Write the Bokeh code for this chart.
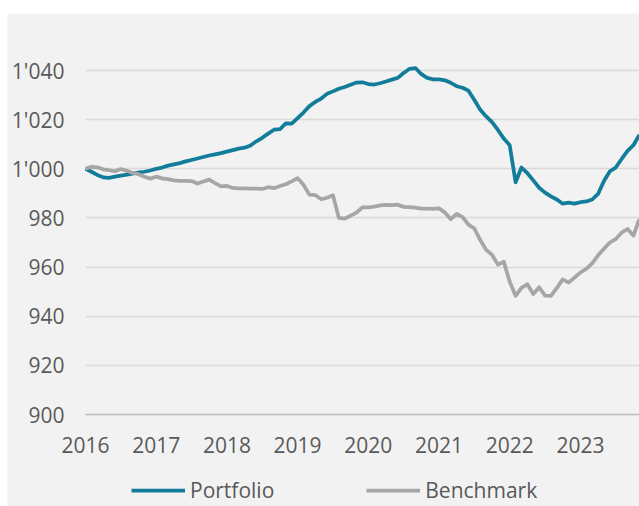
from bokeh.plotting import figure
from bokeh.models import FixedTicker, Legend, LegendItem, Range1d, Spacer
from bokeh.layouts import row, column
from bokeh.embed import file_html
from bokeh.resources import INLINE

# Monthly values, Jan 2016 .. Nov 2023
portfolio = [
    1000.0, 998.8, 997.5, 996.5, 996.3, 996.8, 997.2, 997.6, 998.0, 998.5, 998.8, 999.3,
    1000.0, 1000.5, 1001.3, 1001.8, 1002.3, 1003.0, 1003.6, 1004.2, 1004.8, 1005.4, 1005.9, 1006.4,
    1007.0, 1007.6, 1008.2, 1008.6, 1009.5, 1011.2, 1012.6, 1014.3, 1015.9, 1016.1, 1018.5, 1018.4,
    1020.6, 1022.9, 1025.5, 1027.2, 1028.6, 1030.5, 1031.5, 1032.6, 1033.3, 1034.2, 1035.1, 1035.2,
    1034.5, 1034.3, 1034.8, 1035.5, 1036.3, 1037.0, 1039.0, 1040.7, 1041.0, 1038.5, 1037.0, 1036.4,
    1036.4, 1036.0, 1035.0, 1033.6, 1033.0, 1031.8, 1028.0, 1024.0, 1021.3, 1019.0, 1015.8, 1012.3,
    1009.6, 994.5, 1000.5, 998.2, 995.3, 992.3, 990.3, 988.8, 987.5, 985.8, 986.2, 985.8,
    986.4, 986.7, 987.5, 989.8, 995.0, 999.0, 1000.5, 1004.0, 1007.3, 1009.6, 1013.8,
]
benchmark = [
    1000.0, 1000.8, 1000.6, 999.8, 999.4, 999.0, 999.9, 999.2, 998.3, 997.8, 996.8, 996.0,
    996.8, 996.1, 995.8, 995.3, 995.1, 995.1, 995.0, 994.0, 994.8, 995.6, 994.2, 992.8,
    993.0, 992.2, 992.0, 992.0, 991.9, 991.9, 991.8, 992.5, 992.1, 993.0, 993.7, 994.9,
    996.2, 993.5, 989.5, 989.3, 987.6, 988.2, 989.2, 980.0, 979.7, 980.9, 982.2, 984.3,
    984.3, 984.6, 985.1, 985.3, 985.2, 985.4, 984.5, 984.4, 984.2, 983.8, 983.8, 983.7,
    983.9, 982.2, 979.5, 981.6, 980.3, 977.3, 975.7, 971.0, 967.0, 965.0, 961.0, 962.2,
    954.0, 948.3, 951.5, 953.0, 949.0, 951.8, 948.4, 948.3, 951.5, 955.0, 953.7, 955.7,
    957.8, 959.3, 961.5, 964.8, 967.5, 970.0, 971.4, 974.0, 975.5, 972.8, 979.5,
]
months = list(range(len(portfolio)))

year_labels = ["2016", "2017", "2018", "2019", "2020", "2021", "2022", "2023"]
year_ticks = [0, 12, 24, 36, 48, 60, 72, 84]
y_ticks = [900, 920, 940, 960, 980, 1000, 1020, 1040]
y_tick_labels = ["900", "920", "940", "960", "980", "1'000", "1'020", "1'040"]

FONT = "Open Sans"
TXT = "#595959"
BG = "#f2f2f2"
X_END = 94.03

p = figure(width=632, height=493, output_backend="svg", toolbar_location=None,
           x_range=Range1d(-13.24, X_END), y_range=Range1d(862.56, 1063.2),
           min_border_left=0, min_border_right=0, min_border_top=0, min_border_bottom=0,
           background_fill_color=BG, border_fill_color=BG, outline_line_color=None)

r1 = p.line(months, portfolio, line_color="#127d9b", line_width=3.75, line_join="round")
r2 = p.line(months, benchmark, line_color="#a6a6a6", line_width=3.75, line_join="round")

p.xaxis.ticker = FixedTicker(ticks=year_ticks)
p.xaxis.major_label_overrides = {t: l for t, l in zip(year_ticks, year_labels)}
p.xaxis.fixed_location = y_ticks[0]
p.xaxis.bounds = (months[0], X_END)
p.yaxis.ticker = FixedTicker(ticks=y_ticks)
p.yaxis.major_label_overrides = {t: l for t, l in zip(y_ticks, y_tick_labels)}
p.yaxis.fixed_location = months[0]
p.ygrid.ticker = FixedTicker(ticks=y_ticks)
if "cross_bounds" in p.ygrid[0].properties():
    p.ygrid.cross_bounds = (months[0], X_END)
p.xgrid.visible = False
p.ygrid.grid_line_color = "#d9d9d9"
p.ygrid.grid_line_width = 1.5

for ax in (p.xaxis, p.yaxis):
    ax.major_tick_line_color = None
    ax.minor_tick_line_color = None
    ax.major_label_text_font = FONT
    ax.major_label_text_font_size = "21px"
    ax.major_label_text_color = TXT
p.yaxis.axis_line_color = None
p.yaxis.major_label_standoff = 15
p.xaxis.axis_line_color = "#bfbfbf"
p.xaxis.axis_line_width = 1.5
p.xaxis.major_label_standoff = 16

legend = Legend(items=[LegendItem(label="Portfolio", renderers=[r1]),
                       LegendItem(label="Benchmark", renderers=[r2])],
                orientation="horizontal", location=(124, 2),
                glyph_width=54, glyph_height=20, label_standoff=5, spacing=92,
                padding=0, margin=0, border_line_color=None, background_fill_alpha=0,
                label_text_font=FONT, label_text_font_size="21px", label_text_color=TXT)
p.add_layout(legend)

layout = row(Spacer(width=7, height=506), column(Spacer(width=632, height=13), p))

open("out.html", "w").write(file_html(layout, INLINE))
